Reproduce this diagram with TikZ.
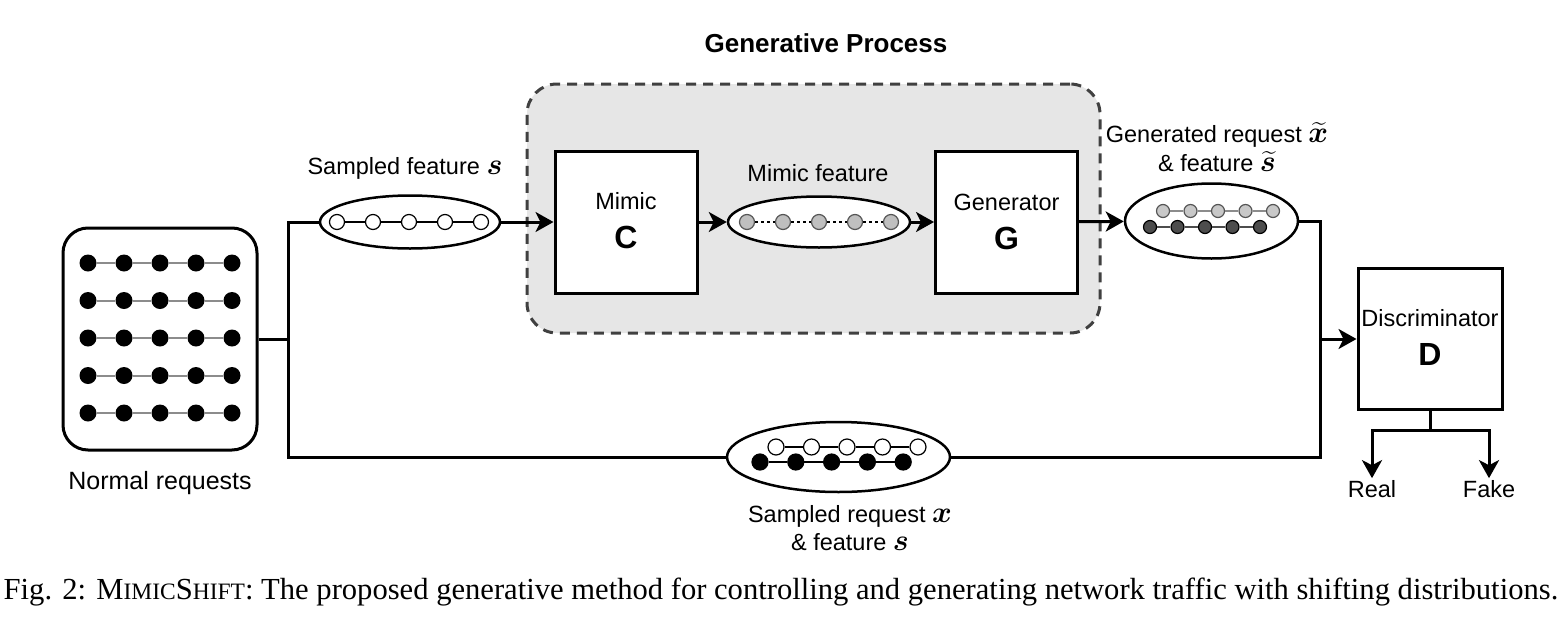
\RequirePackage{fix-cm}
\documentclass[tikz,border=0pt]{standalone}
\usepackage{amsmath}
\usepackage{bm}
\usepackage{fontspec}
\setmainfont{Liberation Serif}
\setsansfont{Liberation Sans}
\usetikzlibrary{arrows.meta, positioning, shapes.geometric}
\definecolor{cbg}{HTML}{E6E6E6}
\definecolor{cdash}{HTML}{404040}
\definecolor{clink}{HTML}{8C8C8C}
\definecolor{cmim}{HTML}{BFBFBF}
\definecolor{cmimline}{HTML}{555555}
\definecolor{cgenlight}{HTML}{C8C8C8}
\definecolor{cgendark}{HTML}{4D4D4D}
\newcommand{\fakesc}[1]{{\fontsize{23.5}{26}\selectfont #1}}
\newcommand{\mvar}[1]{{\fontsize{30}{30}\selectfont$#1$}}
\tikzset{
  every picture/.style={font=\sffamily},
  blk/.style={draw, fill=white, line width=3pt, minimum width=142pt, minimum height=142pt, inner sep=0pt},
  ell/.style={ellipse, draw, fill=white, line width=2.5pt, inner sep=0pt},
  dot/.style={circle, inner sep=0pt, minimum size=#1, line width=1.2pt},
  link/.style={line width=2pt},
  wire/.style={line width=3pt},
  arrow/.style={-{Stealth[length=18pt, width=20pt, inset=5pt]}, line width=3pt},
  lbl/.style={font=\sffamily\fontsize{23.5}{28}\selectfont, inner sep=2pt, align=center},
  big/.style={font=\sffamily\bfseries\fontsize{32}{36}\selectfont, inner sep=0pt},
  procbox/.style={draw=cdash, fill=cbg, line width=3pt, dash pattern=on 10pt off 7pt, rounded corners=30pt},
}

\begin{document}
\begin{tikzpicture}[x=1pt, y=-1pt]
  \useasboundingbox (0,0) rectangle (1564,627);

  % generative process region
  \node[procbox, minimum width=573pt, minimum height=249pt] (gp) at (813.5, 208.5) {};
  \node[lbl, font=\sffamily\bfseries\fontsize{26}{31}\selectfont] (gptitle) at (826, 43) {Generative Process};

  % normal requests
  \node[draw, line width=3pt, rounded corners=25pt, minimum width=194pt, minimum height=222pt] (nreq) at (160, 339) {};
  \foreach \r in {1,...,5} {
    \foreach \c in {1,...,5}
      \node[dot=17pt, fill=black] (nr-\r-\c) at ({52+36*\c}, {225.5+37.5*\r}) {};
    \foreach \c [evaluate=\c as \n using int(\c+1)] in {1,...,4}
      \draw[link, clink] (nr-\r-\c) -- (nr-\r-\n);
  }
  \node[lbl, font=\sffamily\fontsize{25}{30}\selectfont] (nreql) at (160, 483) {Normal requests};

  % sampled feature
  \node[ell, minimum width=180pt, minimum height=53pt] (sampell) at (410, 222) {};
  \foreach \c in {0,...,4}
    \node[dot=15pt, draw, fill=white] (sf-\c) at ({337+36*\c}, 222) {};
  \foreach \c [evaluate=\c as \n using int(\c+1)] in {0,...,3}
    \draw[line width=1.5pt] (sf-\c) -- (sf-\n);
  \node[lbl] (sampl) at (405, 168) {Sampled feature \mvar{\bm{s}}};

  % mimic C
  \node[blk] (mimic) at (626, 222) {};
  \node[lbl] (mimict) at (626, 201) {Mimic};
  \node[big] (mimicc) at (626, 237) {C};

  % mimic feature
  \node[ell, minimum width=182pt, minimum height=51pt] (mimell) at (819, 222) {};
  \foreach \c in {0,...,4}
    \node[dot=15pt, draw=cmimline, fill=cmim] (mf-\c) at ({747+36*\c}, 222) {};
  \foreach \c [evaluate=\c as \n using int(\c+1)] in {0,...,3}
    \draw[line width=1.3pt, dash pattern=on 3pt off 3pt] (mf-\c) -- (mf-\n);
  \node[lbl] (miml) at (818, 173) {Mimic feature};

  % generator G
  \node[blk] (gen) at (1006.5, 222) {};
  \node[lbl] (gent) at (1006.5, 202) {Generator};
  \node[big] (geng) at (1006.5, 238) {G};

  % generated request
  \node[ell, minimum width=173pt, minimum height=75pt] (genell) at (1211.5, 221) {};
  \foreach \c in {0,...,4} {
    \node[dot=13pt, draw=cmimline, fill=cgenlight] (gl-\c) at ({1163+27.5*\c}, 211) {};
    \node[dot=13pt, draw=black, fill=cgendark] (gd-\c) at ({1150+27.5*\c}, 227) {};
  }
  \foreach \c [evaluate=\c as \n using int(\c+1)] in {0,...,3} {
    \draw[line width=1.5pt, clink] (gl-\c) -- (gl-\n);
    \draw[line width=1.5pt, cgendark] (gd-\c) -- (gd-\n);
  }
  \node[lbl, font=\sffamily\fontsize{23.5}{29}\selectfont] (genl) at (1217, 147)
    {Generated request \mvar{\widetilde{\bm{x}}}\\\& feature \mvar{\widetilde{\bm{s}}}};

  % sampled request
  \node[ell, minimum width=223pt, minimum height=70pt] (botell) at (838.5, 457) {};
  \foreach \c in {0,...,4} {
    \node[dot=16pt, draw, fill=white] (sw-\c) at ({776+35.5*\c}, 447) {};
    \node[dot=16pt, draw, fill=black] (sb-\c) at ({760+35.8*\c}, 462) {};
  }
  \foreach \c [evaluate=\c as \n using int(\c+1)] in {0,...,3} {
    \draw[line width=1.5pt] (sw-\c) -- (sw-\n);
    \draw[line width=1.5pt] (sb-\c) -- (sb-\n);
  }
  \node[lbl] (botl) at (850, 528) {Sampled request \mvar{\bm{x}}\\\& feature \mvar{\bm{s}}};

  % discriminator D
  \node[blk, minimum width=144pt, minimum height=141pt] (disc) at (1430, 339) {};
  \node[lbl] (disct) at (1430, 318) {Discriminator};
  \node[big] (discd) at (1430, 354) {D};
  \node[lbl] (real) at (1372, 489) {Real};
  \node[lbl] (fake) at (1489, 489) {Fake};

  % connectors
  \coordinate (split) at (288, 339);
  \coordinate (merge) at (1320, 339);
  \coordinate (fork) at (1430, 430);
  \draw[wire] (nreq) -- (split);
  \draw[wire] (split) |- (sampell);
  \draw[wire] (split) |- (botell);
  \draw[arrow] (sampell) -- (mimic);
  \draw[arrow] (mimic) -- (mimell);
  \draw[arrow] (mimell) -- (gen);
  \draw[arrow] (gen) -- (genell);
  \draw[wire] (genell) -| (merge);
  \draw[wire] (botell) -| (merge);
  \draw[arrow] (merge) -- (disc);
  \draw[wire] (disc) -- (fork);
  \draw[arrow] (fork) -| (real);
  \draw[arrow] (fork) -| (fake);

  % caption
  \node[font=\rmfamily\fontsize{30.6}{34}\selectfont, inner sep=0pt] (cap) at (781, 592)
    {Fig. 2: M\fakesc{IMIC}S\fakesc{HIFT}: The proposed generative method for controlling and generating network traffic with shifting distributions.};
\end{tikzpicture}
\end{document}
